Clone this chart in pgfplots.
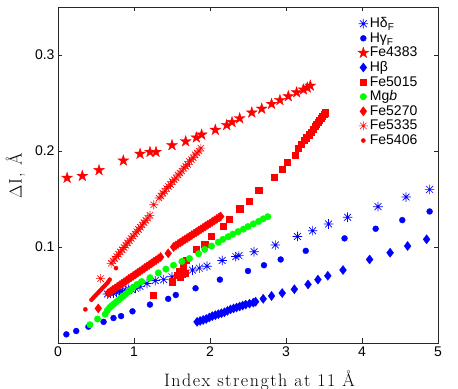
\documentclass[border=0pt]{standalone}
\usepackage{fontspec}
\usepackage{pgfplots}
\pgfplotsset{compat=1.18}
\usetikzlibrary{plotmarks}
\newfontfamily\lsans{Liberation Sans}
\newcommand\tickfont{\lsans\fontsize{14}{16}\selectfont}
\makeatletter
\def\spaced#1{\sp@ced#1\relax}
\def\sp@ced#1{\ifx#1\relax\else#1\kern1.5pt\expandafter\sp@ced\fi}
\makeatother
\pgfdeclareplotmark{mast}{%
  \pgfpathmoveto{\pgfqpoint{-\pgfplotmarksize}{0pt}}%
  \pgfpathlineto{\pgfqpoint{\pgfplotmarksize}{0pt}}%
  \pgfpathmoveto{\pgfqpoint{0pt}{-\pgfplotmarksize}}%
  \pgfpathlineto{\pgfqpoint{0pt}{\pgfplotmarksize}}%
  \pgfpathmoveto{\pgfqpoint{-0.7071\pgfplotmarksize}{-0.7071\pgfplotmarksize}}%
  \pgfpathlineto{\pgfqpoint{0.7071\pgfplotmarksize}{0.7071\pgfplotmarksize}}%
  \pgfpathmoveto{\pgfqpoint{-0.7071\pgfplotmarksize}{0.7071\pgfplotmarksize}}%
  \pgfpathlineto{\pgfqpoint{0.7071\pgfplotmarksize}{-0.7071\pgfplotmarksize}}%
  \pgfusepathqstroke}
\pgfdeclareplotmark{pent}{%
  \pgfpathmoveto{\pgfqpointpolar{90}{\pgfplotmarksize}}%
  \pgfpathlineto{\pgfqpointpolar{126}{0.382\pgfplotmarksize}}%
  \pgfpathlineto{\pgfqpointpolar{162}{\pgfplotmarksize}}%
  \pgfpathlineto{\pgfqpointpolar{198}{0.382\pgfplotmarksize}}%
  \pgfpathlineto{\pgfqpointpolar{234}{\pgfplotmarksize}}%
  \pgfpathlineto{\pgfqpointpolar{270}{0.382\pgfplotmarksize}}%
  \pgfpathlineto{\pgfqpointpolar{306}{\pgfplotmarksize}}%
  \pgfpathlineto{\pgfqpointpolar{342}{0.382\pgfplotmarksize}}%
  \pgfpathlineto{\pgfqpointpolar{18}{\pgfplotmarksize}}%
  \pgfpathlineto{\pgfqpointpolar{54}{0.382\pgfplotmarksize}}%
  \pgfpathclose\pgfusepathqfillstroke}
\begin{document}
\begin{tikzpicture}
\begin{axis}[
  name=ax,
  width=380pt, height=336pt, scale only axis,
  xmin=0, xmax=5, ymin=0, ymax=0.35,
  xtick={0,1,2,3,4,5}, ytick={0.1,0.2,0.3},
  scaled y ticks=false,
  tick align=inside, major tick length=4.5pt,
  axis line style={line width=0.8pt, black!85},
  tick style={line width=0.6pt, black!85},
  /pgf/number format/assume math mode=true,
  tick label style={font=\tickfont},
  label style={font=\fontsize{18}{20}\selectfont},
  xlabel={\spaced{Index}\ \spaced{strength}\ \spaced{at}\ \spaced{11}\ \spaced{Å}},
  ylabel={$\Delta$\spaced{I,}\ \spaced{Å}},
  xlabel style={at={(axis description cs:0.532,-0.130)}, anchor=base, inner sep=0pt},
  ylabel style={at={(axis description cs:-0.0955,0.5)}, anchor=base, inner sep=0pt},
  legend style={draw=none, fill=none, at={(0.789,0.972)}, anchor=north west,
    inner sep=0pt, outer sep=0pt, font=\tickfont, row sep=0pt,
    nodes={inner sep=1pt, text height=10.3pt, text depth=2.3pt, anchor=west}},
  legend cell align=left,
  legend image code/.code={\draw[mark repeat=2,mark phase=2,#1] plot coordinates {(0pt,0pt) (4pt,0pt) (8pt,0pt)};},
]
% Hdelta_F
\addplot[only marks, mark=mast, mark size=4.8pt, blue, line width=0.7pt] coordinates {
(0.65,0.051) (0.69,0.052) (0.73,0.052) (0.77,0.053) (0.81,0.054) (0.85,0.054) (0.89,0.055) (0.93,0.056) (0.97,0.056) (1.02,0.057) (1.08,0.059) (1.17,0.062) (1.28,0.065) (1.39,0.066) (1.50,0.069) (1.77,0.076) (1.86,0.078) (1.96,0.080) (2.16,0.086) (2.34,0.090) (2.38,0.091) (2.58,0.095) (2.86,0.102) (3.15,0.111) (3.35,0.117) (3.56,0.124) (3.81,0.131) (4.21,0.142) (4.58,0.152) (4.89,0.160)};
\addlegendentry{Hδ\raisebox{-0.2em}{\fontsize{10}{11}\selectfont F}}
% Hgamma_F
\addplot[only marks, mark=*, mark size=3pt, blue, mark options={line width=0.3pt}] coordinates {
(0.11,0.009) (0.24,0.0125) (0.40,0.017) (0.60,0.022) (0.73,0.026) (0.83,0.028) (0.98,0.033) (1.21,0.040) (1.45,0.046) (1.55,0.050) (1.81,0.057) (2.13,0.066) (2.50,0.075) (2.71,0.081) (2.93,0.087) (3.26,0.096) (3.77,0.109) (4.18,0.119) (4.53,0.128) (4.89,0.137)};
\addlegendentry{Hγ\raisebox{-0.2em}{\fontsize{10}{11}\selectfont F}}
% Fe4383
\addplot[only marks, mark=pent, mark size=5.8pt, red, mark options={line width=0.3pt}] coordinates {
(0.12,0.172) (0.32,0.174) (0.54,0.180) (0.86,0.190) (1.08,0.197) (1.21,0.199) (1.29,0.199) (1.50,0.206) (1.68,0.210) (1.82,0.214) (1.89,0.217) (2.07,0.222) (2.22,0.227) (2.29,0.230) (2.39,0.234) (2.55,0.240) (2.68,0.244) (2.81,0.249) (2.92,0.253) (3.03,0.257) (3.14,0.261) (3.23,0.264) (3.28,0.266) (3.32,0.268)};
\addlegendentry{Fe4383}
% Hbeta
\addplot[only marks, mark=diamond*, mark size=4.6pt, blue, mark options={line width=0.3pt}] coordinates {
(1.83,0.022) (1.87,0.023) (1.91,0.024) (1.95,0.025) (1.99,0.0265) (2.03,0.028) (2.07,0.029) (2.11,0.030) (2.15,0.031) (2.19,0.032) (2.23,0.0335) (2.27,0.035) (2.31,0.036) (2.35,0.037) (2.39,0.038) (2.43,0.039) (2.47,0.040) (2.52,0.041) (2.57,0.042) (2.60,0.043) (2.70,0.046) (2.81,0.049) (2.95,0.052) (3.11,0.056) (3.29,0.061) (3.42,0.066) (3.55,0.070) (3.75,0.076) (4.10,0.087) (4.37,0.094) (4.60,0.101) (4.85,0.108)};
\addlegendentry{Hβ}
% Fe5015
\addplot[only marks, mark=square*, mark size=3.1pt, red, mark options={line width=0.3pt}] coordinates {
(1.25,0.050) (1.50,0.064) (1.57,0.071) (1.59,0.075) (1.61,0.069) (1.63,0.072) (1.65,0.079) (1.67,0.073) (1.69,0.086) (1.82,0.0976) (1.93,0.103) (2.02,0.111) (2.17,0.122) (2.25,0.129) (2.39,0.140) (2.51,0.148) (2.64,0.159) (2.84,0.173) (2.95,0.181) (3.02,0.188) (3.12,0.196) (3.16,0.203) (3.20,0.207) (3.24,0.211) (3.27,0.214) (3.30,0.217) (3.33,0.220) (3.36,0.223) (3.38,0.226) (3.40,0.228) (3.42,0.230) (3.44,0.232) (3.46,0.234) (3.48,0.236) (3.50,0.238) (3.52,0.240)};
\addlegendentry{Fe5015}
% Mgb
\addplot[only marks, mark=*, mark size=3.3pt, green, mark options={line width=0.3pt}] coordinates {
(0.42,0.019) (0.52,0.025) (0.62,0.030) (0.65,0.034) (0.68,0.037) (0.71,0.039) (0.74,0.041) (0.77,0.043) (0.80,0.045) (0.83,0.047) (0.86,0.049) (0.89,0.051) (0.92,0.053) (0.95,0.055) (0.99,0.058) (1.04,0.061) (1.10,0.064) (1.21,0.068) (1.32,0.073) (1.42,0.077) (1.52,0.081) (1.63,0.085) (1.73,0.088) (1.85,0.093) (1.93,0.0975) (2.02,0.101) (2.11,0.105) (2.17,0.108) (2.24,0.1107) (2.30,0.1134) (2.37,0.116) (2.44,0.1186) (2.50,0.1213) (2.57,0.124) (2.64,0.1266) (2.70,0.1293) (2.76,0.1316)};
\addlegendentry{Mg\textit{b}}
% Fe5270
\addplot[only marks, mark=diamond*, mark size=4.6pt, red, mark options={line width=0.3pt}] coordinates {
(0.53,0.036) (0.66,0.052) (0.69,0.0536) (0.72,0.0553) (0.75,0.0569) (0.78,0.0585) (0.81,0.0601) (0.84,0.0618) (0.87,0.0634) (0.90,0.065) (0.93,0.0667) (0.96,0.0683) (0.99,0.0699) (1.02,0.0715) (1.05,0.0732) (1.08,0.0748) (1.11,0.0764) (1.14,0.0781) (1.17,0.0797) (1.20,0.0813) (1.23,0.0829) (1.26,0.0846) (1.29,0.0862) (1.32,0.0878) (1.35,0.0895) (1.45,0.0934) (1.52,0.100) (1.55,0.1016) (1.58,0.1032) (1.61,0.1047) (1.64,0.1062) (1.67,0.1078) (1.70,0.1093) (1.73,0.1108) (1.76,0.1124) (1.79,0.1139) (1.82,0.1154) (1.85,0.117) (1.88,0.1185) (1.91,0.12) (1.94,0.1216) (1.97,0.1231) (2.00,0.1246) (2.03,0.1262) (2.06,0.1277) (2.09,0.1292) (2.12,0.1308) (2.14,0.1318)};
\addlegendentry{Fe5270}
% Fe5335
\addplot[only marks, mark=mast, mark size=4.5pt, red, line width=0.6pt] coordinates {
(0.56,0.067) (0.70,0.083) (0.724,0.0854) (0.748,0.0877) (0.772,0.0901) (0.796,0.0924) (0.82,0.0948) (0.844,0.0971) (0.868,0.0995) (0.892,0.1018) (0.916,0.1042) (0.94,0.1065) (0.964,0.1089) (0.988,0.1112) (1.012,0.1136) (1.036,0.1159) (1.06,0.1183) (1.084,0.1206) (1.108,0.123) (1.132,0.1253) (1.156,0.1277) (1.18,0.130) (1.21,0.133) (1.26,0.144) (1.33,0.151) (1.355,0.153) (1.38,0.156) (1.405,0.158) (1.43,0.161) (1.455,0.163) (1.48,0.165) (1.505,0.168) (1.53,0.170) (1.555,0.172) (1.58,0.175) (1.605,0.177) (1.63,0.179) (1.655,0.182) (1.68,0.184) (1.705,0.186) (1.73,0.189) (1.755,0.191) (1.78,0.193) (1.805,0.196) (1.83,0.198) (1.855,0.200) (1.88,0.203)};
\addlegendentry{Fe5335}
% Fe5406
\addplot[only marks, mark=*, mark size=2.1pt, red, mark options={line width=0.3pt}] coordinates {
(0.36,0.035) (0.44,0.045) (0.46,0.0467) (0.48,0.0484) (0.50,0.050) (0.52,0.0517) (0.54,0.0534) (0.56,0.055) (0.58,0.0568) (0.60,0.0585) (0.62,0.060) (0.64,0.0618) (0.66,0.0635) (0.68,0.066) (0.763,0.078)};
\addlegendentry{Fe5406}
\end{axis}
\pgfresetboundingbox
\path[use as bounding box] ([shift={(-58pt,-46pt)}]ax.south west) rectangle ([shift={(20pt,7pt)}]ax.north east);
\end{tikzpicture}
\end{document}
